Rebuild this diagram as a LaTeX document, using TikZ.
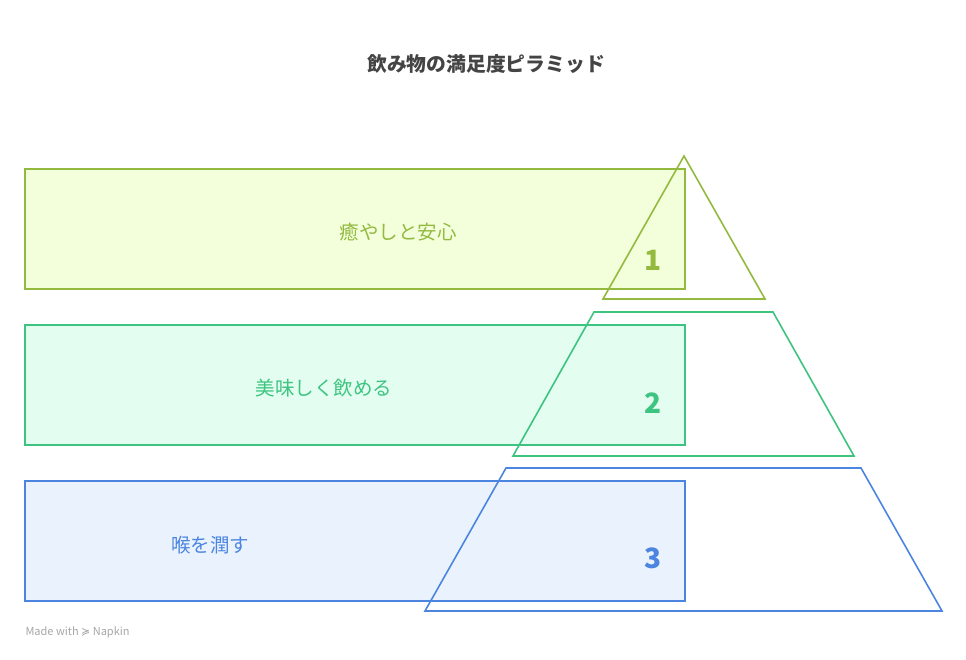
\documentclass[tikz,border=0pt]{standalone}
\usepackage{fontspec}
\newfontfamily\cjk{Noto Sans CJK JP}
\newfontfamily\symb{DejaVu Sans}
\usepackage{xcolor}
\definecolor{lvlA}{HTML}{93BA3F}
\definecolor{lvlAfill}{HTML}{F3FEDB}
\definecolor{lvlB}{HTML}{3DC480}
\definecolor{lvlBfill}{HTML}{E3FDF0}
\definecolor{lvlC}{HTML}{4C85DF}
\definecolor{lvlCfill}{HTML}{EAF3FD}
\begin{document}
\begin{tikzpicture}[x=1pt,y=-1pt,
    every node/.style={font=\cjk},
    band/.style={draw,line width=1.6pt,minimum width=660pt,minimum height=120pt,anchor=north west,inner sep=0pt},
    tier/.style={line width=1.6pt,line join=miter},
    label/.style={font=\cjk\fontsize{19.5}{23}\selectfont},
    num/.style={font=\cjk\bfseries\fontsize{28}{32}\selectfont}]
    
    \useasboundingbox (0,0) rectangle (966,660);
    \node (title) at (486,64) {\fontsize{19.8}{24}\selectfont\bfseries\color[HTML]{444444}飲み物の満足度ピラミッド};
    
    % bands
    \node[band,draw=lvlA,fill=lvlAfill] (bandA) at (24,168) {};
    \node[band,draw=lvlB,fill=lvlBfill] (bandB) at (24,324) {};
    \node[band,draw=lvlC,fill=lvlCfill] (bandC) at (24,480) {};
    
    % pyramid tiers
    \draw[tier,draw=lvlA] (684,156) -- (765,299) -- (603,299) -- cycle;
    \draw[tier,draw=lvlB] (594,312) -- (773,312) -- (854,456) -- (513,456) -- cycle;
    \draw[tier,draw=lvlC] (506,468) -- (861,468) -- (942,611) -- (425,611) -- cycle;
    
    \node[label,text=lvlA] (txtA) at (398,232) {癒やしと安心};
    \node[label,text=lvlB] (txtB) at (324,388) {美味しく飲める};
    \node[label,text=lvlC] (txtC) at (210,545) {喉を潤す};
    
    \node[num,text=lvlA] (numA) at (653,260) {1};
    \node[num,text=lvlB] (numB) at (653,403) {2};
    \node[num,text=lvlC] (numC) at (653,558) {3};
    
    \node[anchor=west,font=\cjk\fontsize{11}{13}\selectfont,text=black!35] (credit) at (22,632) {Made with {\symb ≽} Napkin};
\end{tikzpicture}
\end{document}
